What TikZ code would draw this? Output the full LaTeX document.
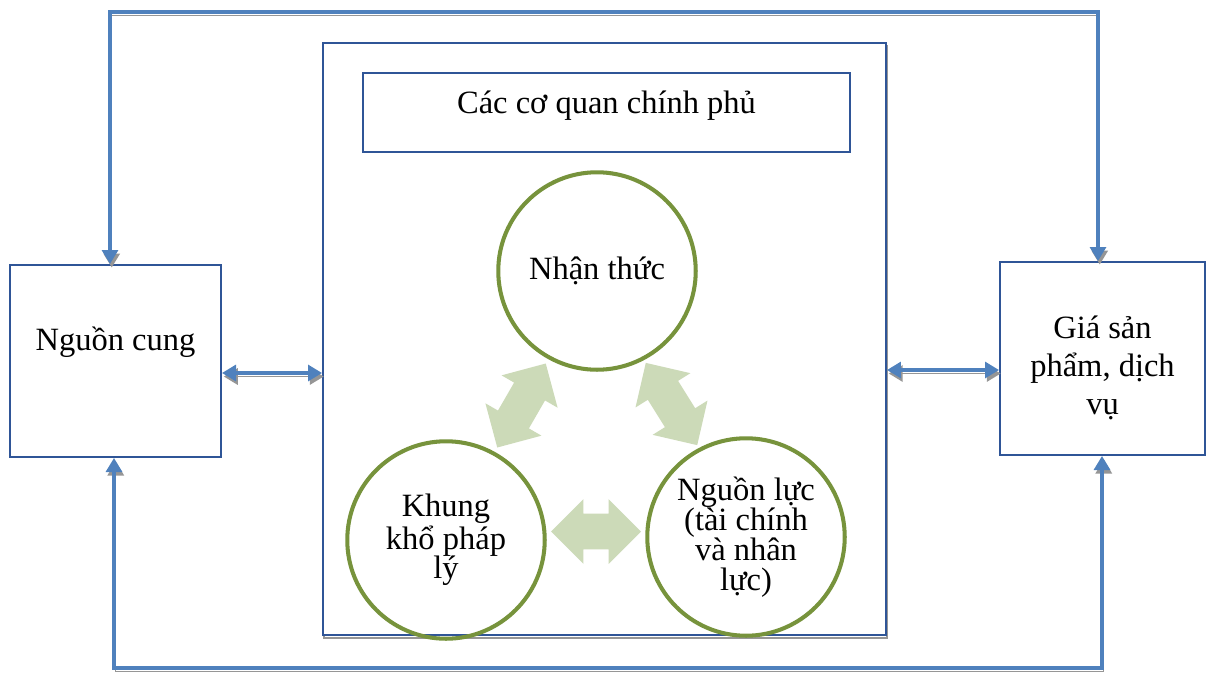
\documentclass[tikz,border=0pt]{standalone}
\usepackage{fontspec}
\setmainfont{Liberation Serif}
\usetikzlibrary{arrows.meta}
\usetikzlibrary{shapes.arrows}
\usetikzlibrary{calc}
\definecolor{connblue}{RGB}{79,129,189}
\definecolor{boxblue}{RGB}{47,85,151}
\definecolor{ringgreen}{RGB}{119,147,60}
\definecolor{paleleaf}{RGB}{204,218,184}
\definecolor{shadowgray}{RGB}{150,150,150}
\tikzset{
  box/.style={draw=boxblue, line width=1.1pt, inner sep=0pt},
  boxtext/.style={align=center, font=\fontsize{18.5}{21.6}\selectfont},
  ring/.style={circle, draw=ringgreen, line width=2.3pt, minimum size=3.95cm,
    inner sep=0pt, align=center, font=\fontsize{18.5}{17}\selectfont},
  fatarrow/.style={double arrow, fill=paleleaf, inner sep=0pt,
    text height=0.35cm, text depth=0.35cm, double arrow head extend=0.29cm},
  link/.style={draw=connblue, line width=2.5pt,
    {Triangle[width=9pt,length=8pt]}-{Triangle[width=9pt,length=8pt]},
    preaction={draw=shadowgray, transform canvas={shift={(1pt,-2pt)}}}}
}

\begin{document}
\begin{tikzpicture}[x=0.02cm, y=-0.02cm]
  \useasboundingbox (0,0) rectangle (1213,673);

  % boxes
  \draw[shadowgray, line width=1.1pt, transform canvas={shift={(0.5pt,-1.5pt)}}]
    (323,43) rectangle (886,635);
  \node[box, fill=white, minimum width=11.26cm, minimum height=11.84cm] (coquan) at (604.5,339) {};
  \node[box, minimum width=9.74cm, minimum height=1.58cm] (title) at (606.5,112.5) {};
  \node[boxtext] (titlelbl) at ([yshift=0.13cm]title.center) {Các cơ quan chính phủ};
  \node[box, minimum width=4.22cm, minimum height=3.84cm] (nguon) at (115.5,361) {};
  \node[boxtext] (nguonlbl) at ([yshift=0.38cm]nguon.center) {Nguồn cung};
  \node[box, minimum width=4.1cm, minimum height=3.86cm] (gia) at (1102.5,358.5) {};
  \node[boxtext] (gialbl) at ([yshift=-0.18cm]gia.center) {Giá sản\\ phẩm, dịch\\ vụ};

  % circles
  \node[ring] (nhanthuc) at (597,271) {Nhận thức};
  \node[ring] (khung) at (446,540) {Khung\\ khổ pháp\\ lý};
  \node[ring] (nguonluc) at (746,537) {Nguồn lực\\ (tài chính\\ và nhân\\ lực)};

  % fat arrows
  \node[fatarrow, minimum height=1.94cm, rotate=60] (arrowleft) at ($(nhanthuc)!0.5!(khung)$) {};
  \node[fatarrow, minimum height=1.94cm, rotate=-58] (arrowright) at ($(nhanthuc)!0.5!(nguonluc)$) {};
  \node[fatarrow, minimum height=1.8cm] (arrowbottom) at ($(khung)!0.5!(nguonluc)+(0,-7)$) {};

  % connectors
  \coordinate (topleft) at (110,12);
  \coordinate (topright) at (1098,12);
  \coordinate (botleft) at (114,668);
  \coordinate (botright) at (1102,668);
  \draw[link] (nguon.north -| topleft) -- (topleft) -- (topright) -- (gia.north -| topright);
  \draw[link] (nguon.south -| botleft) -- (botleft) -- (botright) -- (gia.south -| botright);
  \draw[link] (nguon.east |- 0,373) -- (coquan.west |- 0,373);
  \draw[link] (coquan.east |- 0,370) -- (gia.west |- 0,370);
\end{tikzpicture}
\end{document}
